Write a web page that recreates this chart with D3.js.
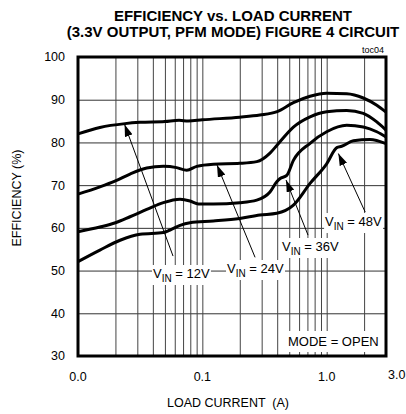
<!DOCTYPE html>
<html>
<head>
<meta charset="utf-8">
<script src="https://cdn.jsdelivr.net/npm/d3@7/dist/d3.min.js"></script>
<style>
	body { margin: 0; background: #fff; }
	svg { display: block; font-family: "Liberation Sans", Arial, sans-serif; }
</style>
</head>
<body>
<svg width="406" height="414"></svg>
<script>
//	DATA
/*
	each series is a list of [load current (A), efficiency (%)]
*/
var vin12 = [[0.01, 82.0], [0.015, 83.5], [0.0239, 84.4], [0.0315, 84.7], [0.05, 84.9], [0.065, 85.2],
		[0.077, 85.0], [0.1, 85.3], [0.2, 85.9], [0.29, 86.4], [0.40, 87.2], [0.54, 89.3], [0.735, 90.8],
		[1.0, 91.5], [1.45, 91.4], [1.97, 90.4], [2.53, 88.7], [3.0, 87.1]],
	vin24 = [[0.01, 67.9], [0.015, 69.6], [0.02, 71.0], [0.0262, 72.6], [0.0357, 74.0], [0.0486, 74.4],
		[0.0622, 74.1], [0.0749, 73.5], [0.0902, 74.4], [0.1225, 74.9], [0.2, 75.1], [0.274, 75.5],
		[0.35, 77.5], [0.40, 79.4], [0.54, 83.6], [0.735, 86.0], [1.0, 87.2], [1.45, 87.5], [1.97, 86.8],
		[2.53, 84.8], [3.0, 82.9]],
	vin36 = [[0.01, 59.1], [0.015, 60.2], [0.02, 61.2], [0.0262, 62.6], [0.0357, 64.3], [0.0486, 65.9],
		[0.0662, 66.7], [0.0796, 66.3], [0.093, 65.6], [0.1225, 65.6], [0.2, 65.9], [0.274, 66.5],
		[0.35, 68.4], [0.397, 70.8], [0.42, 71.5], [0.4775, 72.3], [0.54, 75.8], [0.735, 79.8], [1.0, 82.5],
		[1.45, 84.0], [1.97, 83.6], [2.53, 82.5], [3.0, 81.3]],
	vin48 = [[0.01, 52.1], [0.015, 54.8], [0.0218, 57.1], [0.0316, 58.5], [0.0486, 58.9], [0.055, 59.5],
		[0.0662, 60.6], [0.0796, 61.2], [0.1225, 61.6], [0.2, 62.2], [0.29, 63.0], [0.397, 63.4],
		[0.54, 65.3], [0.735, 70.4], [1.0, 75.0], [1.206, 78.8], [1.32, 79.1], [1.64, 80.4], [2.23, 80.7],
		[3.0, 79.7]],
	series = [vin12, vin24, vin36, vin48];

var effTicks = [30, 40, 50, 60, 70, 80, 90, 100],
	currentTicks = [0.01, 0.1, 1, 3],
	currentLabels = ["0.0", "0.1", "1.0", "3.0"];

/*
	callouts - label text, where the label sits and where its arrow points (data units)
*/
var callouts = [
	{ v: "12V", at: [0.0401, 48.26], tail: [0.0581, 53.4], tip: [0.0237, 84.2] },
	{ v: "24V", at: [0.158, 49.43], tail: [0.2655, 53.1], tip: [0.1313, 74.7] },
	{ v: "36V", at: [0.4377, 54.58], tail: [0.708, 58.3], tip: [0.471, 71.2] },
	{ v: "48V", at: [0.971, 60.43], tail: [2.04, 63.7], tip: [1.242, 77.4] }
];
var modeNote = { text: "MODE = OPEN", at: [0.489, 32.34] };

//	SCALES
var svg = d3.select("svg"),
	plotL = 78, plotR = 386, plotT = 57, plotB = 356,
	x = d3.scaleLog().domain([0.01, 3]).range([plotL, plotR]),
	y = d3.scaleLinear().domain([30, 100]).range([plotB, plotT]);

// grid lines: horizontal every 10%, vertical on each log tick
svg.append("g")
	.attr("transform", "translate(" + plotL + ",0)")
	.call(d3.axisLeft(y).tickValues(effTicks).tickSize(-(plotR - plotL)).tickFormat(""))
	.call(function(g) { g.select(".domain").remove(); })
	.selectAll("line").attr("stroke", "#333").attr("stroke-width", 1);

svg.append("g")
	.attr("transform", "translate(0," + plotB + ")")
	.call(d3.axisBottom(x).tickValues(x.ticks()).tickSize(-(plotB - plotT)).tickFormat(""))
	.call(function(g) { g.select(".domain").remove(); })
	.selectAll("line").attr("stroke", "#444").attr("stroke-width", 1);

// curves
var line = d3.line()
	.x(function(d) { return x(d[0]); })
	.y(function(d) { return y(d[1]); })
	.curve(d3.curveMonotoneX);

svg.append("g").selectAll("path")
	.data(series)
	.enter().append("path")
	.attr("d", line)
	.attr("fill", "none")
	.attr("stroke", "#000")
	.attr("stroke-width", 3)
	.attr("stroke-linejoin", "round");

// arrow head marker
svg.append("defs").append("marker")
	.attr("id", "head")
	.attr("markerUnits", "userSpaceOnUse")
	.attr("markerWidth", 12).attr("markerHeight", 8)
	.attr("refX", 12).attr("refY", 4)
	.attr("orient", "auto")
	.append("path").attr("d", "M0,0 L12,4 L0,8 Z").attr("fill", "#000");

svg.append("g").selectAll("line")
	.data(callouts)
	.enter().append("line")
	.attr("x1", function(d) { return x(d.tail[0]); })
	.attr("y1", function(d) { return y(d.tail[1]); })
	.attr("x2", function(d) { return x(d.tip[0]); })
	.attr("y2", function(d) { return y(d.tip[1]); })
	.attr("stroke", "#000")
	.attr("stroke-width", 1)
	.attr("marker-end", "url(#head)");

// labels with a white box that hides the grid behind them
function boxed(g, pad) {
	var b = g.node().getBBox();
	g.insert("rect", ":first-child")
		.attr("x", b.x - pad).attr("y", b.y - pad)
		.attr("width", b.width + 2 * pad).attr("height", b.height + 2 * pad)
		.attr("fill", "#fff");
}

callouts.forEach(function(d) {
	var g = svg.append("g"),
		t = g.append("text")
			.attr("x", x(d.at[0])).attr("y", y(d.at[1]))
			.attr("font-size", 13);
	t.append("tspan").text("V");
	t.append("tspan").attr("font-size", 10).attr("dy", 4).text("IN");
	t.append("tspan").attr("dy", -4).text(" = " + d.v);
	boxed(g, 1);
});

var mg = svg.append("g");
mg.append("text")
	.attr("x", x(modeNote.at[0])).attr("y", y(modeNote.at[1]))
	.attr("font-size", 13)
	.text(modeNote.text);
boxed(mg, 3);

// frame
svg.append("rect")
	.attr("x", plotL).attr("y", plotT)
	.attr("width", plotR - plotL).attr("height", plotB - plotT)
	.attr("fill", "none").attr("stroke", "#000").attr("stroke-width", 3);

//	AXES TEXT
svg.append("g").selectAll("text")
	.data(effTicks)
	.enter().append("text")
	.attr("x", 65)
	.attr("y", function(d) { return y(d); })
	.attr("dy", "0.35em")
	.attr("text-anchor", "end")
	.attr("font-size", 12.5)
	.text(function(d) { return d; });

svg.append("g").selectAll("text")
	.data(currentTicks)
	.enter().append("text")
	.attr("x", function(d, i) { return i == currentTicks.length - 1 ? x(d) + 2 : x(d); })
	.attr("y", function(d, i) { return i == currentTicks.length - 1 ? 379 : 381; })
	.attr("text-anchor", function(d, i) { return i == currentTicks.length - 1 ? "start" : "middle"; })
	.attr("font-size", 12.5)
	.text(function(d, i) { return currentLabels[i]; });

svg.append("text")
	.attr("x", 228).attr("y", 407)
	.attr("text-anchor", "middle")
	.attr("font-size", 12.5)
	.attr("xml:space", "preserve")
	.text("LOAD CURRENT  (A)");

svg.append("text")
	.attr("transform", "translate(21,198) rotate(-90)")
	.attr("text-anchor", "middle")
	.attr("font-size", 12.5)
	.text("EFFICIENCY (%)");

// title
svg.append("text")
	.attr("x", 233).attr("y", 21)
	.attr("text-anchor", "middle")
	.attr("font-size", 15).attr("font-weight", "bold")
	.text("EFFICIENCY vs. LOAD CURRENT");
svg.append("text")
	.attr("x", 233).attr("y", 37)
	.attr("text-anchor", "middle")
	.attr("font-size", 15).attr("font-weight", "bold")
	.text("(3.3V OUTPUT, PFM MODE) FIGURE 4 CIRCUIT");

svg.append("text")
	.attr("x", 384).attr("y", 53)
	.attr("text-anchor", "end")
	.attr("font-size", 9)
	.text("toc04");
</script>
</body>
</html>
